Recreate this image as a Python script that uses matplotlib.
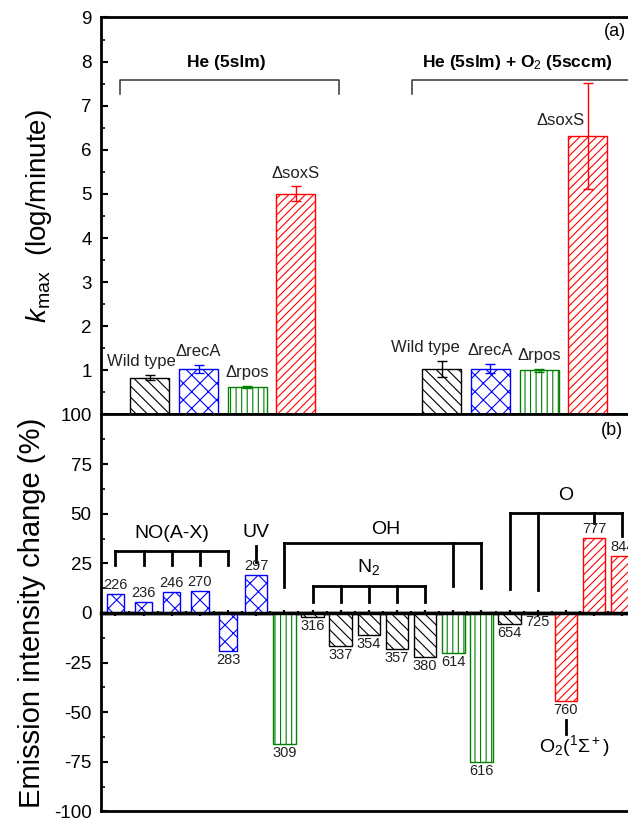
import matplotlib
matplotlib.use('Agg')
import matplotlib.pyplot as plt
import numpy as np

plt.rcParams['font.family'] = ['Liberation Sans', 'DejaVu Sans']
plt.rcParams['mathtext.fontset'] = 'custom'
plt.rcParams['mathtext.rm'] = 'Liberation Sans'
plt.rcParams['mathtext.it'] = 'Liberation Sans:italic'
plt.rcParams['mathtext.bf'] = 'Liberation Sans:bold'
plt.rcParams['hatch.linewidth'] = 0.8
plt.rcParams['axes.unicode_minus'] = False

# ---------------- data: panel (a) ----------------
strains = ["Wild type", "\u0394recA", "\u0394rpos", "\u0394soxS"]
conditions = ["He (5slm)", "He (5slm) + O$_2$ (5sccm)"]
kmax_he = [0.83, 1.04, 0.62, 5.00]
kmax_he_err = [0.06, 0.09, 0.02, 0.17]
kmax_heo2 = [1.03, 1.04, 1.00, 6.31]
kmax_heo2_err = [0.19, 0.11, 0.03, 1.20]

# ---------------- data: panel (b) ----------------
wavelengths = ["226", "236", "246", "270", "283", "297", "309", "316", "337", "354",
               "357", "380", "614", "616", "654", "725", "760", "777", "844"]
intensity_change = [9.6, 5.4, 10.7, 11.2, -19.3, 19.0, -65.8, -2.0, -16.8, -10.9,
                    -18.1, -22.3, -20.2, -74.9, -5.7, 0.0, -44.5, 37.9, 28.9]
species = ["NO", "NO", "NO", "NO", "NO", "UV", "OH", "N2", "N2", "N2",
           "N2", "N2", "OH", "OH", "Other", "Other", "O2", "O", "O"]

# ---------------- styles ----------------
strain_style = {
    "Wild type": dict(color="black", hatch="\\\\\\"),
    "\u0394recA": dict(color="#0000ff", hatch="xx"),
    "\u0394rpos": dict(color="#008000", hatch="|||"),
    "\u0394soxS": dict(color="#ff0000", hatch="////"),
}
species_style = {
    "NO": dict(color="#0000ff", hatch="xx", width=0.62),
    "UV": dict(color="#0000ff", hatch="xx", width=0.8),
    "OH": dict(color="#008000", hatch="|||", width=0.8),
    "N2": dict(color="black", hatch="\\\\\\", width=0.8),
    "Other": dict(color="black", hatch="\\\\\\", width=0.8),
    "O2": dict(color="#ff0000", hatch="////", width=0.8),
    "O": dict(color="#ff0000", hatch="////", width=0.8),
}

fig = plt.figure(figsize=(6.28, 8.23), dpi=100)
L, W, H = 0.1613, 0.852, 0.4824
ax_a = fig.add_axes([L, 0.4964, W, H])
ax_b = fig.add_axes([L, 0.0140, W, H])

for ax in (ax_a, ax_b):
    for s in ax.spines.values():
        s.set_linewidth(2)

# ---------------- panel (a) ----------------
group_start = [1, 7]
group_vals = [kmax_he, kmax_heo2]
group_errs = [kmax_he_err, kmax_heo2_err]
label_dx = [[-0.17, 0.0, 0.0, 0.0], [-0.33, 0.0, 0.0, -0.55]]
for g in range(2):
    xs = np.arange(len(strains)) + group_start[g]
    for i, st in enumerate(strains):
        sty = strain_style[st]
        ax_a.bar(xs[i], group_vals[g][i], width=0.8, facecolor="white",
                 edgecolor=sty["color"], hatch=sty["hatch"], linewidth=1.0, zorder=2)
        ax_a.errorbar(xs[i], group_vals[g][i], yerr=group_errs[g][i], fmt="none",
                      ecolor=sty["color"], elinewidth=1.0, capsize=3.5, capthick=1.0, zorder=3)
        if label_dx[g][i] < -0.5:
            ly = group_vals[g][i] + 0.35
        else:
            ly = group_vals[g][i] + group_errs[g][i] + 0.3
        ax_a.text(xs[i] + label_dx[g][i], ly, st, ha="center", va="center",
                  fontsize=12, color="#222222")
    # bracket
    x0, x1 = xs[0] - 0.61, xs[-1] + 0.89
    ax_a.plot([x0, x0, x1, x1], [7.27, 7.58, 7.58, 7.27], color="#333333", lw=1.1)
    ax_a.text((xs[0] + xs[-1]) / 2 + 0.06, 7.97, conditions[g], ha="center", va="center",
              fontsize=12.5, fontweight="bold")

ax_a.set_xlim(0, 11)
ax_a.set_ylim(0, 9)
ax_a.set_yticks(np.arange(1, 10))
ax_a.set_yticks(np.arange(0.5, 9, 1.0), minor=True)
ax_a.set_xticks([])
ax_a.tick_params(axis="y", which="major", direction="in", length=5, width=1.5,
                 labelsize=13.5, pad=7, right=True)
ax_a.tick_params(axis="y", which="minor", direction="in", length=3, width=1.2, right=True)
ax_a.set_ylabel("$k$$_{\\mathregular{max}}$  (log/minute)", fontsize=20)
ax_a.yaxis.set_label_coords(-0.088, 0.5)
ax_a.text(10.57, 8.68, "(a)", ha="center", va="center", fontsize=13)

# ---------------- panel (b) ----------------
pos = np.arange(1, len(wavelengths) + 1)
for i, wl in enumerate(wavelengths):
    sty = species_style[species[i]]
    v = intensity_change[i]
    ax_b.bar(pos[i], v, width=sty["width"], facecolor="white", edgecolor=sty["color"],
             hatch=sty["hatch"], linewidth=1.0, zorder=2)
    if v > 0:
        ax_b.text(pos[i], v + 1.0, wl, ha="center", va="bottom", fontsize=10.5, color="#222222")
    else:
        ax_b.text(pos[i], v - 1.0, wl, ha="center", va="top", fontsize=10.5, color="#222222")

idx = {w: k + 1 for k, w in enumerate(wavelengths)}
lwb = 2.0
# NO(A-X)
no_x = [idx[w] for w in ["226", "236", "246", "270", "283"]]
ax_b.plot([no_x[0], no_x[-1]], [31.4, 31.4], color="black", lw=lwb)
for x in no_x:
    ax_b.plot([x, x], [31.4, 24.0], color="black", lw=lwb)
ax_b.text((no_x[0] + no_x[-1]) / 2, 39.8, "NO(A-X)", ha="center", va="center", fontsize=14)
# UV
ux = idx["297"]
ax_b.plot([ux, ux], [33.6, 25.9], color="black", lw=lwb)
ax_b.text(ux, 40.6, "UV", ha="center", va="center", fontsize=14)
# OH
oh_x = [idx["309"], idx["614"], idx["616"]]
oh_drop = [13.2, 13.7, 12.5]
ax_b.plot([oh_x[0], oh_x[-1]], [35.3, 35.3], color="black", lw=lwb)
for x, d in zip(oh_x, oh_drop):
    ax_b.plot([x, x], [35.3, d], color="black", lw=lwb)
ax_b.text((oh_x[0] + oh_x[-1]) / 2 + 0.1, 41.9, "OH", ha="center", va="center", fontsize=14)
# N2
n2_x = [idx[w] for w in ["316", "337", "354", "357", "380"]]
ax_b.plot([n2_x[0], n2_x[-1]], [13.7, 13.7], color="black", lw=lwb)
for x in n2_x:
    ax_b.plot([x, x], [13.7, 5.7], color="black", lw=lwb)
ax_b.text((n2_x[0] + n2_x[-1]) / 2, 23.0, "N$_2$", ha="center", va="center", fontsize=14)
# O
o_x = [idx["654"], idx["725"], idx["777"], idx["844"]]
o_drop = [12.0, 11.5, 45.3, 38.7]
ax_b.plot([o_x[0], o_x[-1]], [50.2, 50.2], color="black", lw=lwb)
for x, d in zip(o_x, o_drop):
    ax_b.plot([x, x], [50.2, d], color="black", lw=lwb)
ax_b.text((o_x[0] + o_x[-1]) / 2, 59.1, "O", ha="center", va="center", fontsize=14)
# O2(1Sigma+)
ox = idx["760"]
ax_b.plot([ox, ox], [-53.7, -61.0], color="black", lw=lwb)
ax_b.text(ox + 0.3, -67.0, "O$_2$($^1\\Sigma^+$)", ha="center", va="center", fontsize=14)

ax_b.set_xlim(0.5, len(wavelengths) + 0.5)
ax_b.set_ylim(-100, 100)
ax_b.set_yticks(np.arange(-100, 101, 25))
ax_b.set_yticks(np.arange(-87.5, 100, 25), minor=True)
ax_b.set_xticks([])
ax_b.tick_params(axis="y", which="major", direction="in", length=5, width=1.5,
                 labelsize=13.5, pad=7, right=True)
ax_b.tick_params(axis="y", which="minor", direction="in", length=3, width=1.2, right=True)
ax_b.set_ylabel("Emission intensity change (%)", fontsize=21)
ax_b.yaxis.set_label_coords(-0.103, 0.5)
ax_b.text(18.63, 91.7, "(b)", ha="center", va="center", fontsize=13)

# zero line with ticks
ax_b.axhline(0, color="black", lw=2.5, zorder=5)
sec = ax_b.secondary_xaxis(0.5)
sec.set_xticks(pos)
sec.set_xticks(pos[:-1] + 0.5, minor=True)
sec.set_xticklabels([])
sec.tick_params(axis="x", which="major", direction="inout", length=5, width=1.5, top=True, bottom=True)
sec.tick_params(axis="x", which="minor", direction="inout", length=3, width=1.2, top=True, bottom=True)
for s in sec.spines.values():
    s.set_linewidth(2.5)

fig.savefig("out.png", dpi=100)
